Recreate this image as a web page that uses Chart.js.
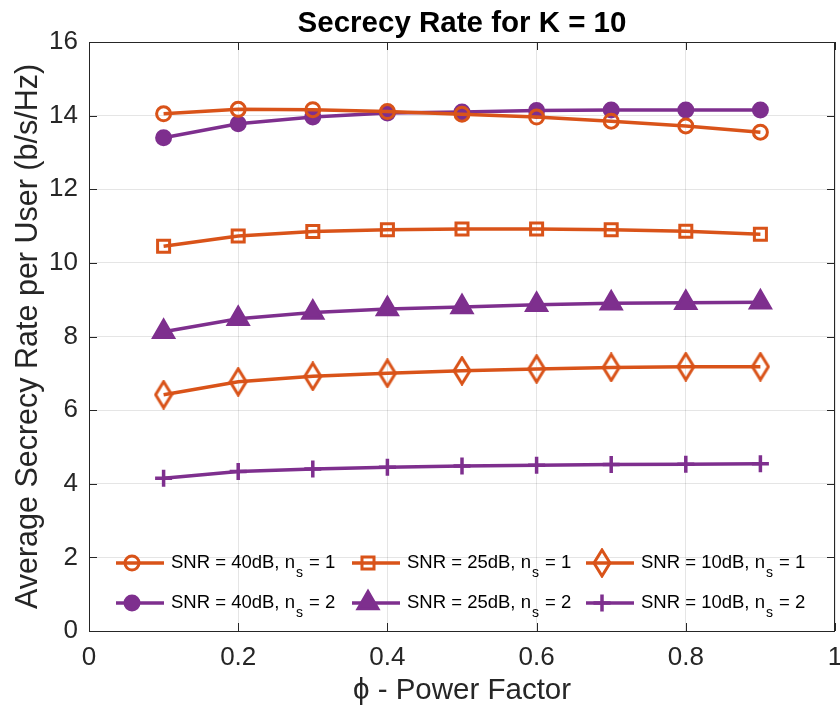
<!DOCTYPE html>
<html>
<head>
<meta charset="utf-8">
<script src="https://cdn.jsdelivr.net/npm/chart.js@4.4.1/dist/chart.umd.min.js"></script>
<style>
  html, body { margin: 0; padding: 0; background: #fff; overflow: hidden; }
  canvas { display: block; }
</style>
</head>
<body>
<canvas id="rateChart" width="840" height="713"></canvas>
<script>
// data
var phi = [0.1, 0.2, 0.3, 0.4, 0.5, 0.6, 0.7, 0.8, 0.9];
var snr40ns1 = [14.05, 14.17, 14.16, 14.11, 14.04, 13.96, 13.85, 13.72, 13.55];
var snr25ns1 = [10.45, 10.73, 10.85, 10.90, 10.92, 10.92, 10.90, 10.86, 10.78];
var snr10ns1 = [6.42, 6.77, 6.92, 7.00, 7.07, 7.12, 7.16, 7.18, 7.18];
var snr40ns2 = [13.40, 13.78, 13.96, 14.07, 14.10, 14.14, 14.15, 14.15, 14.15];
var snr25ns2 = [8.13, 8.48, 8.65, 8.75, 8.80, 8.86, 8.90, 8.92, 8.93];
var snr10ns2 = [4.15, 4.33, 4.40, 4.45, 4.48, 4.50, 4.52, 4.53, 4.54];
var xTicks = [0, 0.2, 0.4, 0.6, 0.8, 1];
var yTicks = [0, 2, 4, 6, 8, 10, 12, 14, 16];
var names = ['SNR = 40dB, n|s| = 1', 'SNR = 25dB, n|s| = 1', 'SNR = 10dB, n|s| = 1',
             'SNR = 40dB, n|s| = 2', 'SNR = 25dB, n|s| = 2', 'SNR = 10dB, n|s| = 2'];

var ORANGE = '#D95319', PURPLE = '#7E2F8E', AX = '#262626';
var FONT = '"Liberation Sans", Arial, Helvetica, sans-serif';

function pts(ys) {
  return ys.map(function (v, i) { return { x: phi[i], y: v }; });
}

// MATLAB style tall diamond marker
function diamond(color) {
  var c = document.createElement('canvas');
  c.width = 20; c.height = 30;
  var g = c.getContext('2d');
  g.strokeStyle = color; g.lineWidth = 3;
  g.beginPath();
  g.moveTo(10, 2); g.lineTo(18, 15); g.lineTo(10, 28); g.lineTo(2, 15); g.closePath();
  g.stroke();
  return c;
}

function series(label, ys, color, style, radius, filled) {
  return {
    label: label,
    data: pts(ys),
    borderColor: color,
    backgroundColor: filled ? color : 'rgba(0,0,0,0)',
    borderWidth: 3.5,
    pointStyle: style,
    pointRadius: radius,
    pointHoverRadius: radius,
    pointBorderWidth: 3,
    pointBorderColor: color,
    pointBackgroundColor: filled ? color : 'rgba(0,0,0,0)',
    tension: 0
  };
}

var datasets = [
  series(names[0], snr40ns1, ORANGE, 'circle', 7, false),
  series(names[1], snr25ns1, ORANGE, 'rect', 8.5, false),
  series(names[2], snr10ns1, ORANGE, diamond(ORANGE), 10, false),
  series(names[3], snr40ns2, PURPLE, 'circle', 7, true),
  series(names[4], snr25ns2, PURPLE, 'triangle', 11.5, true),
  series(names[5], snr10ns2, PURPLE, 'cross', 8.5, false)
];
datasets[5].pointBorderWidth = 3.5;

// box around the axes with inward ticks
var axesBox = {
  id: 'axesBox',
  afterDatasetsDraw: function (chart) {
    var a = chart.chartArea, ctx = chart.ctx;
    var xs = chart.scales.x, ys = chart.scales.y;
    ctx.save();
    ctx.strokeStyle = AX; ctx.lineWidth = 1;
    ctx.strokeRect(a.left + 0.5, a.top + 0.5, a.right - a.left - 1, a.bottom - a.top);
    ctx.beginPath();
    xTicks.forEach(function (t) {
      var px = Math.round(xs.getPixelForValue(t)) + 0.5;
      ctx.moveTo(px, a.bottom); ctx.lineTo(px, a.bottom - 8);
      ctx.moveTo(px, a.top); ctx.lineTo(px, a.top + 8);
    });
    yTicks.forEach(function (t) {
      var py = Math.round(ys.getPixelForValue(t)) + 0.5;
      ctx.moveTo(a.left, py); ctx.lineTo(a.left + 8, py);
      ctx.moveTo(a.right, py); ctx.lineTo(a.right - 8, py);
    });
    ctx.stroke();
    ctx.restore();
  }
};

// legend inside the axes, 3 columns x 2 rows, with subscript text
var innerLegend = {
  id: 'innerLegend',
  afterDraw: function (chart) {
    var a = chart.chartArea, ctx = chart.ctx;
    var colX = [a.left + 27, a.left + 263, a.left + 497];
    var rowY = [a.bottom - 68, a.bottom - 28];
    ctx.save();
    chart.data.datasets.forEach(function (ds, i) {
      var x0 = colX[i % 3], y0 = rowY[Math.floor(i / 3)];
      ctx.strokeStyle = ds.borderColor; ctx.lineWidth = 3.5;
      ctx.beginPath(); ctx.moveTo(x0, y0); ctx.lineTo(x0 + 48, y0); ctx.stroke();
      ctx.fillStyle = ds.pointBackgroundColor;
      ctx.strokeStyle = ds.pointBorderColor;
      ctx.lineWidth = ds.pointBorderWidth;
      Chart.helpers.drawPoint(ctx, {
        pointStyle: ds.pointStyle, radius: ds.pointRadius, rotation: 0,
        borderWidth: ds.pointBorderWidth
      }, x0 + 16, y0);
      var parts = ds.label.split('|');
      var tx = x0 + 55;
      ctx.fillStyle = '#000';
      ctx.textBaseline = 'middle';
      ctx.textAlign = 'left';
      ctx.font = '18.5px ' + FONT;
      ctx.fillText(parts[0], tx, y0);
      tx += ctx.measureText(parts[0]).width + 1;
      ctx.font = '14px ' + FONT;
      ctx.fillText(parts[1], tx, y0 + 10);
      tx += ctx.measureText(parts[1]).width + 1;
      ctx.font = '18.5px ' + FONT;
      ctx.fillText(parts[2], tx, y0);
    });
    ctx.restore();
  }
};

new Chart(document.getElementById('rateChart').getContext('2d'), {
  type: 'line',
  data: { datasets: datasets },
  plugins: [axesBox, innerLegend],
  options: {
    responsive: false,
    animation: false,
    layout: { autoPadding: false, padding: { left: 0, right: 5, top: 0, bottom: 0 } },
    plugins: {
      legend: { display: false },
      tooltip: { enabled: false },
      title: {
        display: true,
        fullSize: false,
        text: 'Secrecy Rate for K = 10',
        color: '#000',
        font: { family: FONT, size: 29.5, weight: 'bold', lineHeight: 1.2 },
        padding: { top: 6, bottom: 0.6 }
      }
    },
    scales: {
      x: {
        type: 'linear',
        min: 0, max: 1,
        afterFit: function (s) { s.height = 82; s.paddingLeft = 0; s.paddingRight = 0; },
        afterBuildTicks: function (s) { s.ticks = xTicks.map(function (v) { return { value: v }; }); },
        ticks: {
          color: AX, padding: 11, font: { family: FONT, size: 26 },
          callback: function (v) { return String(v); }
        },
        grid: { color: 'rgba(38,38,38,0.12)', drawTicks: false },
        border: { display: false },
        title: {
          display: true,
          text: '\u03D5 - Power Factor',
          color: AX,
          font: { family: FONT, size: 29.5 },
          padding: { top: 0, bottom: 4 }
        }
      },
      y: {
        min: 0, max: 16,
        afterFit: function (s) { s.width = 89; s.paddingTop = 0; s.paddingBottom = 0; },
        afterBuildTicks: function (s) { s.ticks = yTicks.map(function (v) { return { value: v }; }); },
        ticks: {
          color: AX, padding: 11, font: { family: FONT, size: 26 },
          callback: function (v) { return String(v); }
        },
        grid: { color: 'rgba(38,38,38,0.12)', drawTicks: false },
        border: { display: false },
        title: {
          display: true,
          text: 'Average Secrecy Rate per User (b/s/Hz)',
          color: AX,
          font: { family: FONT, size: 30.5 },
          padding: { top: 10, bottom: 0 }
        }
      }
    }
  }
});
</script>
</body>
</html>
